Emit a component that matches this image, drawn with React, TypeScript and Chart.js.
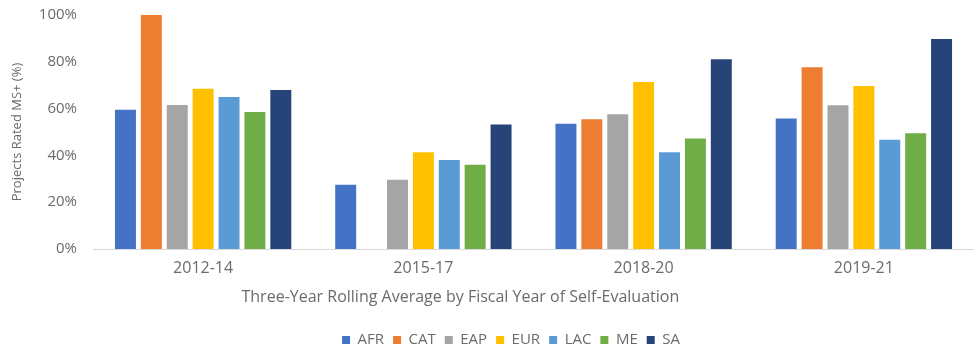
import React, { useEffect, useRef } from "react";
import { Chart, registerables } from "chart.js";

Chart.register(...registerables);

const categories = ["2012-14", "2015-17", "2018-20", "2019-21"];
const seriesNames = ["AFR", "CAT", "EAP", "EUR", "LAC", "ME", "SA"];
const AFR = [59.5, 27.5, 53.5, 55.8];
const CAT = [100, null, 55.5, 77.7];
const EAP = [61.5, 29.6, 57.6, 61.4];
const EUR = [68.5, 41.3, 71.4, 69.7];
const LAC = [65, 38, 41.3, 46.7];
const ME = [58.5, 36, 47.2, 49.5];
const SA = [68, 53.2, 81.1, 89.7];
const seriesValues = [AFR, CAT, EAP, EUR, LAC, ME, SA];
const seriesColors = ["#4472C4", "#ED7D31", "#A5A5A5", "#FFC000", "#5B9BD5", "#70AD47", "#264478"];
const yTicks = [0, 20, 40, 60, 80, 100];
const yTitle = "Projects Rated MS+ (%)";
const xTitle = "Three-Year Rolling Average by Fiscal Year of Self-Evaluation";

const FONT = "'Open Sans', 'DejaVu Sans', sans-serif";
const TEXT = "#6b6b6b";

export default function App() {
  const ref = useRef<HTMLCanvasElement | null>(null);

  useEffect(() => {
    const canvas = ref.current;
    if (!canvas) return;

    const xTitlePlugin = {
      id: "xTitlePlugin",
      afterDraw(chart: any) {
        const { ctx, chartArea } = chart;
        ctx.save();
        ctx.font = `16px ${FONT}`;
        ctx.fillStyle = TEXT;
        ctx.textAlign = "center";
        ctx.textBaseline = "middle";
        ctx.fillText(xTitle, chartArea.left + chartArea.width * 0.417, chartArea.bottom + 48);
        ctx.restore();
      },
    };

    const legendShift = {
      id: "legendShift",
      afterLayout(chart: any) {
        const lg = chart.legend;
        if (!lg) return;
        const dx = 24;
        const dy = 9.5;
        lg.left += dx;
        lg.right += dx;
        lg.top += dy;
        lg.bottom += dy;
      },
    };

    const chart = new Chart(canvas, {
      type: "bar",
      data: {
        labels: categories,
        datasets: seriesNames.map((name, i) => ({
          label: name,
          data: seriesValues[i],
          backgroundColor: seriesColors[i],
          borderWidth: 0,
          categoryPercentage: 0.823,
          barPercentage: 0.81,
        })),
      },
      options: {
        responsive: false,
        animation: false,
        layout: { padding: { top: 15, bottom: 0, left: 0, right: 0 } },
        plugins: {
          legend: {
            position: "bottom",
            labels: {
              boxWidth: 8,
              boxHeight: 8,
              padding: 9,
              color: TEXT,
              font: { family: FONT, size: 15 },
            },
          },
          tooltip: { enabled: false },
        },
        scales: {
          x: {
            grid: { display: false, drawTicks: false },
            border: { display: true, color: "#d9d9d9", width: 1 },
            ticks: { color: TEXT, font: { family: FONT, size: 16 }, padding: 10 },
            afterFit(scale: any) {
              scale.height = 65;
              scale.paddingLeft = 0;
              scale.paddingRight = 0;
            },
          },
          y: {
            min: 0,
            max: 100,
            afterBuildTicks(scale: any) {
              scale.ticks = yTicks.map((v) => ({ value: v }));
            },
            grid: { display: false, drawTicks: false },
            border: { display: false },
            ticks: {
              color: TEXT,
              font: { family: FONT, size: 15 },
              padding: 16,
              callback: (v: any) => `${v}%`,
            },
            title: {
              display: true,
              text: yTitle,
              color: TEXT,
              font: { family: FONT, size: 13 },
              padding: { top: 9, bottom: 0 },
            },
            afterFit(scale: any) {
              scale.width = 93;
              scale.paddingTop = 0;
              scale.paddingBottom = 0;
            },
          },
        },
      },
      plugins: [xTitlePlugin, legendShift],
    });

    return () => chart.destroy();
  }, []);

  return (
    <div style={{ position: "absolute", left: 0, top: 0, width: 974, height: 348, background: "#fff" }}>
      <canvas ref={ref} width={974} height={348} style={{ display: "block" }} />
    </div>
  );
}
